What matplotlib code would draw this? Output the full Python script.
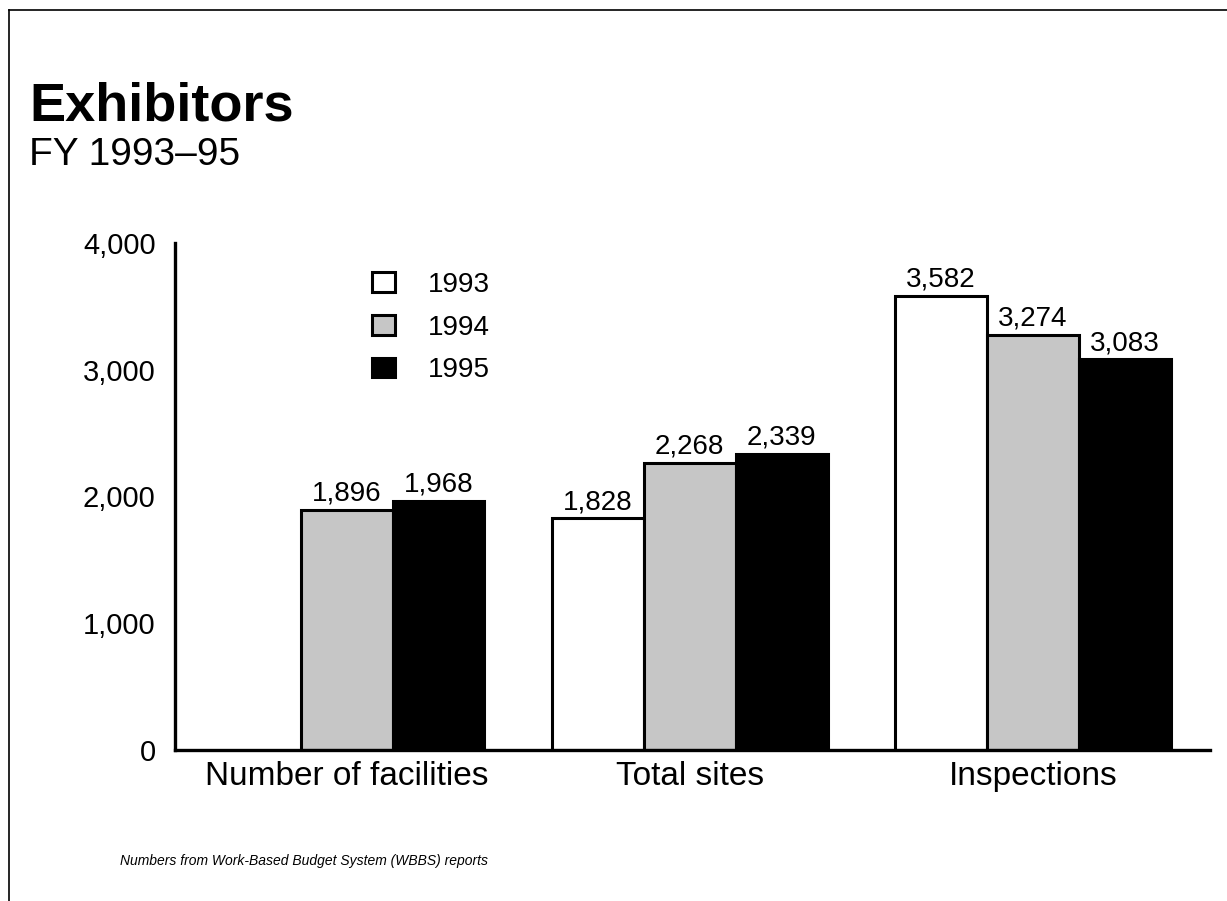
import numpy as np
import matplotlib
matplotlib.use('Agg')
import matplotlib.pyplot as plt
from matplotlib.lines import Line2D

plt.rcParams['font.family'] = ['Liberation Sans', 'DejaVu Sans']

# Data
categories = ['Number of facilities', 'Total sites', 'Inspections']
years = ['1993', '1994', '1995']
v1993 = [np.nan, 1828, 3582]
v1994 = [1896, 2268, 3274]
v1995 = [1968, 2339, 3083]
series = [v1993, v1994, v1995]
fills = ['white', '#c6c6c6', 'black']

fig = plt.figure(figsize=(12.27, 9.01), dpi=100)
ax = fig.add_axes([0.1426, 0.1676, 0.8434, 0.5627])

x = np.arange(len(categories))
w = 0.268
for i, (vals, fc) in enumerate(zip(series, fills)):
    pos = x + (i - 1) * w
    ax.bar(pos, vals, width=w, color=fc, edgecolor='black', linewidth=2.2,
           label=years[i])
    for xp, v in zip(pos, vals):
        if not np.isnan(v):
            ax.text(xp, v + 25, f'{int(v):,}', ha='center', va='bottom', fontsize=20)

ax.set_xlim(-0.5, 2.516)
ax.set_ylim(0, 4000)
ticks = [0, 1000, 2000, 3000, 4000]
ax.set_yticks(ticks)
ax.set_yticklabels([f'{t:,}' for t in ticks], fontsize=21)
ax.set_xticks(x)
ax.set_xticklabels(categories, fontsize=24)
ax.tick_params(axis='y', length=0, pad=14)
ax.tick_params(axis='x', length=0, pad=8)
for s in ['top', 'right']:
    ax.spines[s].set_visible(False)
for s in ['left', 'bottom']:
    ax.spines[s].set_linewidth(2.4)

ax.legend(loc='upper left', bbox_to_anchor=(0.18, 0.965), frameon=False,
          fontsize=20, handlelength=0.8, handleheight=0.7,
          labelspacing=0.6, handletextpad=1.2, borderaxespad=0)

# Titles
fig.text(0.024, 0.866, 'Exhibitors', fontsize=39, fontweight='bold')
fig.text(0.024, 0.817, 'FY 1993\u201395', fontsize=28)
fig.text(0.098, 0.04, 'Numbers from Work-Based Budget System (WBBS) reports',
         fontsize=10, style='italic')

# page frame
fig.add_artist(Line2D([9 / 1227, 9 / 1227], [0, 1 - 10 / 901], color='black', lw=1.2))
fig.add_artist(Line2D([9 / 1227, 1], [1 - 10 / 901, 1 - 10 / 901], color='black', lw=1.2))

fig.savefig('out.png', dpi=100)
